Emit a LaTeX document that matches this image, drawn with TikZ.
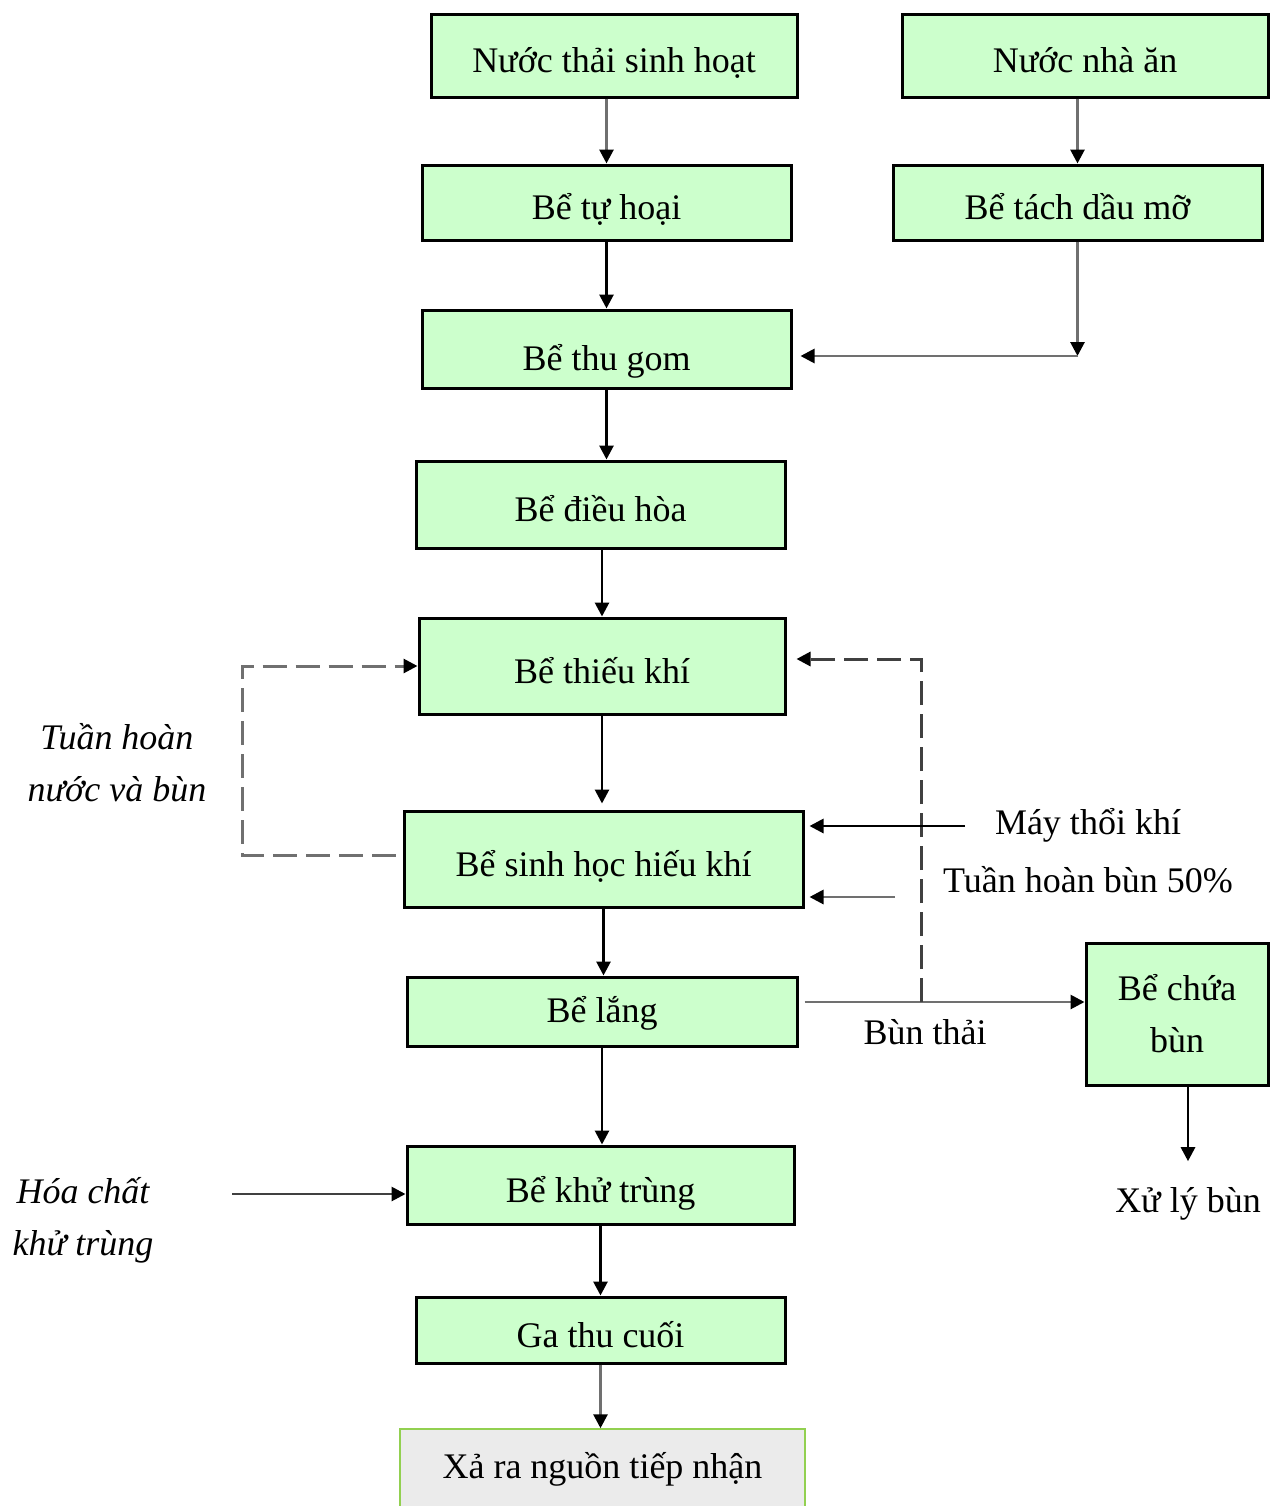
\documentclass[tikz,border=0pt]{standalone}
\usepackage{fontspec}
\setmainfont{Liberation Serif}
\usetikzlibrary{arrows.meta}
\definecolor{boxgreen}{HTML}{CCFFCC}
\definecolor{outfill}{HTML}{EBEBEB}
\definecolor{outedge}{HTML}{92D050}
\definecolor{linegray}{HTML}{707070}
\definecolor{dashgray}{HTML}{404040}
\begin{document}
\begin{tikzpicture}[x=0.5pt,y=-0.5pt,
  box/.style={draw=black, line width=1.5pt, fill=boxgreen, inner sep=0pt,
    font=\fontsize{18}{26}\selectfont, align=center},
  oneline/.style={box, text height=20pt, text depth=3pt},
  tip/.style={-{Triangle[length=7pt,width=7pt,color=black]}},
  flow/.style={line width=1.4pt, draw=black, tip},
  greyflow/.style={flow, draw=linegray},
  recycle/.style={line width=1.5pt, draw=dashgray, dash pattern=on 12pt off 4.5pt, tip},
  lbl/.style={font=\fontsize{18}{26}\selectfont, align=center, inner sep=0pt},
  itlbl/.style={lbl, font=\fontsize{18}{26}\selectfont\itshape}]
\useasboundingbox (0,0) rectangle (1270,1506);

% process units
\node[oneline, minimum width=183pt, minimum height=41.5pt] (n1) at (614,55.5) {Nước thải sinh hoạt};
\node[oneline, minimum width=183pt, minimum height=41.5pt] (n2) at (1085,55.5) {Nước nhà ăn};
\node[oneline, minimum width=184.5pt, minimum height=37.5pt] (n3) at (606.5,202.5) {Bể tự hoại};
\node[oneline, minimum width=184.5pt, minimum height=37.5pt] (n4) at (1077.5,202.5) {Bể tách dầu mỡ};
\node[oneline, text height=24pt, minimum width=184.5pt, minimum height=39pt] (n5) at (606.5,349) {Bể thu gom};
\node[oneline, minimum width=184.5pt, minimum height=43.5pt] (n6) at (600.5,504.5) {Bể điều hòa};
\node[oneline, minimum width=183pt, minimum height=48pt] (n7) at (602,666) {Bể thiếu khí};
\node[oneline, minimum width=199.5pt, minimum height=48pt] (n8) at (603.5,859) {Bể sinh học hiếu khí};
\node[oneline, text height=14pt, minimum width=195pt, minimum height=34.5pt] (n9) at (602,1011.5) {Bể lắng};
\node[box, minimum width=91pt, minimum height=71pt] (n10) at (1177,1014) {Bể chứa\\bùn};
\node[oneline, minimum width=193.5pt, minimum height=39pt] (n11) at (600.5,1185) {Bể khử trùng};
\node[oneline, minimum width=184.5pt, minimum height=33pt] (n12) at (600.5,1330) {Ga thu cuối};
\node[box, draw=outedge, fill=outfill, line width=0.75pt,
      minimum width=202.5pt, minimum height=40pt] (n13) at (602.5,1469) {Xả ra nguồn tiếp nhận};

% side labels
\node[lbl] (may) at (1088,825) {Máy thổi khí};
\node[lbl] (thb) at (1088,880) {Tuần hoàn bùn 50\%};
\node[lbl] (bt) at (925,1032) {Bùn thải};
\node[lbl] (xl) at (1188,1204) {Xử lý bùn};
\node[itlbl] (thnb) at (117,763) {Tuần hoàn\\nước và bùn};
\node[itlbl] (hc) at (83,1220) {Hóa chất\\khử trùng};

% helper points for bends and free ends
\coordinate (k45) at (1078,356);
\coordinate (bt0) at (803,1002);
\coordinate (rj) at (921,1002);
\coordinate (rt) at (921,659);
\coordinate (lb) at (242,855);
\coordinate (lt) at (242,666);
\coordinate (mk) at (965,826);
\coordinate (tb) at (895,897);
\coordinate (hc0) at (232,1194);

% main line
\draw[greyflow] (n1.south -| n3.north) -- (n3.north);
\draw[greyflow] (n2.south -| n4.north) -- (n4.north);
\draw[flow] (n3.south) -- (n5.north);
\draw[greyflow] (n4.south) -- (n4.south |- k45);
\draw[greyflow, shorten >=4pt] (k45) -- (n5.east |- k45);
\draw[flow] (n5.south) -- (n5.south |- n6.north);
\draw[flow] (n6.south -| n7.north) -- (n7.north);
\draw[flow, shorten >=3pt] (n7.south) -- (n7.south |- n8.north);
\draw[flow] (n8.south) -- (n8.south |- n9.north);
\draw[flow] (n9.south) -- (n9.south |- n11.north);
\draw[flow] (n11.south) -- (n12.north);
\draw[greyflow] (n12.south) -- (n12.south |- n13.north);

% sludge line
\draw[greyflow, shorten <=3pt] (n9.east |- bt0) -- (n10.west |- bt0);
\draw[flow, shorten >=13pt] (n10.south -| xl.north) -- (xl.north);

% recirculation
\draw[recycle, shorten >=5pt] (rj) -- (rt) -- (n7.east |- rt);
\draw[recycle, draw=linegray, shorten <=3.5pt] (n8.west |- lb) -- (lb) -- (lt) -- (n7.west |- lt);

% inputs to the aeration tank and disinfection
\draw[flow, shorten >=2.5pt] (mk) -- (n8.east |- mk);
\draw[greyflow, shorten >=2.5pt] (tb) -- (n8.east |- tb);
\draw[flow, draw=black!75] (hc0) -- (n11.west |- hc0);
\end{tikzpicture}
\end{document}
